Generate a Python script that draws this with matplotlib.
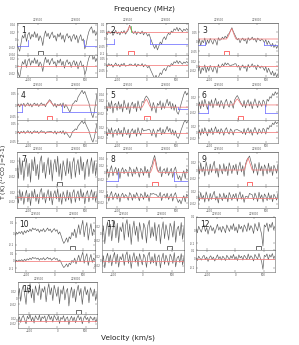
import numpy as np
import matplotlib
matplotlib.use("Agg")
import matplotlib.pyplot as plt
from matplotlib.patches import Rectangle
import matplotlib.transforms as mtransforms
from matplotlib.ticker import FuncFormatter

# ---------------- data (spectra in mK) ----------------
VMIN, VMAX = -690, 700          # velocity range of every panel (km/s)
F0 = 229250.0                   # reference frequency (MHz) for the top axis
C_KMS = 299792.458

vel_ticks = [-500, 0, 500]
freq_ticks = [229500, 229000]

spec1 = [-10, -22, -30, -8, 12, 5, 18, -4, 14, 20, 2, 15, 8, 22, 6, 17, -2, 11, 4, -15,
         10, 24, 9, 18, 3, 14, 21, 6, 12, -3, 16, 8, 19, 2, 13, -6, 10, 17, 5, 11,
         -4, 9, 15, 1, 12, -8, 6, 14, -2, 3, -24, -12, 8, 22, 30, 35, 18, 26, 12, 20]
spec2 = [45, 30, 55, 38, 50, 25, 42, 60, 35, 48, 28, 52, 40, 58, 33, 47, 62, 95, 70, 45,
         38, 55, 30, 50, 42, 36, 55, 28, 46, 40, 20, 35, 5, -20, -45, -65, -40, -75, -50, -20,
         -35, 0, 15, -5, 25, 40, 30, 55, 45, 70, 60, 80, 55, 75, 62, 50, 68, 58, 72, 60]
spec3 = [-10, 15, -20, 8, -5, 20, -15, 10, -8, 18, 2, -12, 14, 5, -18, 22, 8, 12, 25, 15,
         30, 20, 38, 45, 60, 75, 55, 40, 25, 10, 18, -5, 12, 20, 5, 15, -10, 22, 8, 14,
         25, 10, 18, -2, 20, 12, 5, 15, 8, -5, 12, -15, 5, -10, -25, -8, -30, -15, -35, -20]
spec4 = [-5, 5, -8, 6, -3, 8, -6, 2, 10, -4, 6, -8, 4, 9, -2, 7, -6, 3, 10, 0,
         5, -7, 8, 15, 24, 18, 6, -5, 8, -10, 4, -3, 7, -6, 10, -12, 3, -8, -20, -30,
         -15, 5, 10, 20, 15, 35, 45, 55, 65, 50, 60, 42, 25, 10, -15, -40, -55, -30, 10, 50]
spec5 = [5, -12, 15, -5, 20, -18, 8, 12, -10, 18, -6, 10, -15, 22, 3, -8, 14, -20, 6, 16,
         -4, 12, -14, 20, 2, -10, 18, 15, 28, 35, 30, 22, 8, -12, 15, 0, -18, 12, 6, 20,
         -8, 14, -4, 10, 25, 5, 18, -6, 12, -10, 8, -15, -22, -8, 10, 25, 40, 50, 38, 45]
spec6 = [-20, 8, -10, 12, -5, 15, 2, -12, 10, -3, 14, -8, 6, 18, -2, 9, -6, 12, 4, -10,
         8, 15, 0, -6, 11, 5, -9, 13, 20, 25, 18, 10, 3, -5, 12, -8, 6, 14, -3, 9,
         -10, 5, 16, 2, -7, 11, 4, -4, 13, 8, -6, 15, 10, 22, 18, 30, 25, 35, 28, 33]
spec7 = [10, -25, 30, -15, 22, -30, 5, 28, -20, 15, -35, 25, -5, 32, -18, 12, -28, 20, 35, -10,
         18, -25, 8, 30, -15, 24, -32, 10, 26, -8, 34, -20, 14, -30, 22, 2, -18, 28, -12, 20,
         -26, 16, 30, -22, 8, 25, -15, 33, -5, 18, -28, 12, 26, -20, 10, 30, -12, 22, -18, 15]
spec8 = [-5, 10, -15, 8, 20, -10, 5, 15, -8, 12, -18, 6, 14, -4, 9, 3, -12, 16, 8, -12,
         10, -5, 16, 3, -14, 12, 6, -9, 18, -2, 9, -16, 13, 20, 38, 50, 30, 8, 2, 17,
         -13, 6, 11, -4, 14, -9, 3, 12, -15, 7, 16, -6, -20, -10, -25, -8, 5, -18, 10, 4]
spec9 = [12, -10, 18, -5, 8, -15, 20, 3, -12, 15, -6, 10, 22, -8, 5, -18, 14, 2, -10, 16,
         -4, 9, -14, 18, 6, -9, 12, 0, 15, -12, 8, 20, -5, 11, -16, 14, 25, 30, 35, 22,
         10, -8, 16, 4, -13, 19, -2, 10, -15, 13, 5, -10, 17, -6, 9, -14, 12, 3, -8, 15]
spec10 = [-20, 10, -5, 15, 0, 20, -10, 25, 5, 30, 15, 40, 20, 50, 35, 45, 25, 40, 10, 35,
          20, 45, 15, 30, 50, 25, 40, 10, 30, 45, 20, 35, -5, 15, -20, -60, -90, -70, -40, -80,
          -30, -50, 10, -20, 40, -40, 20, 80, -10, 60, 120, -30, 50, 100, -60, 30, 90, -20, 40, 10]
spec11 = [-15, 20, -28, 10, 32, -8, 25, -20, 15, 35, -12, 28, -25, 18, 5, 30, -18, 22, 38, -10,
          26, -30, 12, 34, -5, 20, -22, 30, 8, -16, 28, 15, -26, 22, 36, -12, 18, -8, 30, -20,
          14, 25, -28, 10, 32, -14, 24, 6, -18, 28, 16, -10, 34, -24, 12, 20, -6, 30, -16, 18]
spec12 = [10, -20, 30, 5, -15, 25, 40, -10, 20, -30, 15, 35, -5, 20, -25, 10, 45, 0, 25, -15,
          30, 10, -20, 40, 15, -10, 35, 5, 50, -5, 25, -20, 45, 10, 30, -15, 40, 20, -10, 55,
          0, 35, 15, -25, 50, 20, -5, 60, 10, -30, -120, 40, 25, 55, -10, 45, 20, 60, 5, 30]
spec13 = [5, 30, -10, 25, 40, 10, -20, 35, 15, 45, 0, 28, -15, 38, 20, 8, 42, -5, 30, 18,
          36, -12, 24, 45, 10, 32, -8, 40, 22, 5, 35, -18, 26, 12, 38, -6, 20, 30, -25, 15,
          34, 0, 28, -12, 22, 40, 8, 30, -20, 18, 36, 10, 26, -15, 32, 20, 5, 28, -8, 15]

spectra = {1: spec1, 2: spec2, 3: spec3, 4: spec4, 5: spec5, 6: spec6, 7: spec7,
           8: spec8, 9: spec9, 10: spec10, 11: spec11, 12: spec12, 13: spec13}

# fitted model (red): constant level plus line channels (mK)
model_level = {2: 45, 3: 15, 4: 0, 5: 0, 6: 0, 8: 0, 9: 0}
model_line = {
    2: {15: 8, 16: 25, 17: 45, 18: 20, 19: 5},
    3: {22: 10, 23: 25, 24: 45, 25: 55, 26: 35, 27: 15},
    4: {22: 5, 23: 12, 24: 20, 25: 12, 26: 5},
    5: {27: 8, 28: 18, 29: 25, 30: 18, 31: 8},
    6: {27: 6, 28: 12, 29: 16, 30: 12, 31: 6},
    8: {33: 10, 34: 25, 35: 40, 36: 20, 37: 5},
    9: {35: 10, 36: 20, 37: 30, 38: 20, 39: 10},
}
# baseline windows (blue), km/s, and their drawn level (mK)
blue_windows = {1: [(-690, -500), (480, 700)], 2: [(-690, -560), (60, 700)],
                3: [(-690, -560), (450, 700)], 4: [(-690, -600), (84, 700)],
                5: [(530, 700)], 6: [(-690, -520), (480, 700)],
                8: [(-690, -485), (460, 700)]}
blue_level = {1: -16, 2: -35, 3: -17, 4: -30, 5: -5, 6: -21, 8: -25}
# line window markers (small boxes), centre velocity and colour
box_v = {1: -277, 2: -265, 3: -191, 4: -130, 5: 7, 6: 50, 7: 50, 8: 143, 9: 204,
         10: 308, 11: 449, 12: 411, 13: 376}
box_col = {1: 'k', 2: 'r', 3: 'r', 4: 'r', 5: 'r', 6: 'r', 7: 'k', 8: 'r', 9: 'r',
           10: 'k', 11: 'k', 12: 'k', 13: 'k'}
green_v = {2: -265}

spec_ylim = {1: (-0.04, 0.045), 2: (-0.11, 0.11), 3: (-0.07, 0.1), 4: (-0.065, 0.075),
             5: (-0.04, 0.06), 6: (-0.04, 0.045), 7: (-0.045, 0.045), 8: (-0.04, 0.06),
             9: (-0.04, 0.045), 10: (-0.15, 0.15), 11: (-0.045, 0.045), 12: (-0.15, 0.1),
             13: (-0.05, 0.05)}
spec_yticks = {1: [-0.04, -0.02, 0, 0.02, 0.04], 2: [-0.1, -0.05, 0, 0.05, 0.1],
               3: [-0.05, 0, 0.05], 4: [-0.05, 0, 0.05], 5: [-0.02, 0, 0.02, 0.04],
               6: [-0.02, 0, 0.02], 7: [-0.02, 0, 0.02], 8: [-0.02, 0, 0.02, 0.04],
               9: [-0.02, 0, 0.02], 10: [-0.1, 0, 0.1], 11: [-0.02, 0, 0.02],
               12: [-0.1, 0, 0.1], 13: [-0.02, 0, 0.02]}
res_ylim = {1: (-0.03, 0.03), 2: (-0.1, 0.08), 3: (-0.05, 0.05), 4: (-0.06, 0.07),
            5: (-0.04, 0.05), 6: (-0.035, 0.04), 7: (-0.045, 0.045), 8: (-0.04, 0.04),
            9: (-0.035, 0.04), 10: (-0.15, 0.15), 11: (-0.045, 0.045), 12: (-0.15, 0.1),
            13: (-0.05, 0.05)}
res_yticks = {1: [-0.02, 0, 0.02], 2: [-0.05, 0, 0.05], 3: [-0.02, 0, 0.02],
              4: [-0.05, 0, 0.05], 5: [-0.02, 0, 0.02], 6: [-0.02, 0, 0.02],
              7: [-0.02, 0, 0.02], 8: [-0.02, 0, 0.02], 9: [-0.02, 0, 0.02],
              10: [-0.1, 0, 0.1], 11: [-0.02, 0, 0.02], 12: [-0.1, 0, 0.1],
              13: [-0.02, 0, 0.02]}

# ---------------- layout (pixels) ----------------
W, H = 299, 345
fig = plt.figure(figsize=(W / 100, H / 100), dpi=100)
fig.patch.set_facecolor('white')

rows = [(23, 55, 77), (88, 120, 143), (152, 186, 208), (217, 250, 272), (282, 314, 328)]
cols = {1: (17, 97), 2: (106, 188), 3: (198, 278)}
panel_pos = {}
n = 1
for r in range(4):
    for c in (1, 2, 3):
        x0, x1 = cols[c]
        if r == 3:
            x0, x1 = {1: (15, 95), 2: (102, 184), 3: (196, 275)}[c]
        panel_pos[n] = (x0, x1) + rows[r]
        n += 1
panel_pos[13] = (18, 97) + rows[4]


def add_ax(x0, x1, y0, y1):
    return fig.add_axes([x0 / W, 1 - y1 / H, (x1 - x0) / W, (y1 - y0) / H])


def v2f(v):
    return F0 * (1 - np.asarray(v) / C_KMS)


def f2v(f):
    return C_KMS * (1 - np.asarray(f) / F0)


fmt = FuncFormatter(lambda y, p: '0' if abs(y) < 1e-12 else ('%g' % y))
SPEC_C = '#5a5a5a'
RED = '#f27a7a'
BLUE = '#7070ff'
TICKFS = 2.0


def style(ax):
    for s in ax.spines.values():
        s.set_linewidth(0.4)
        s.set_color('#666666')
    ax.tick_params(direction='in', length=1.2, width=0.3, labelsize=TICKFS,
                   colors='#555555', pad=0.6, top=True, right=True)
    ax.set_xlim(VMIN, VMAX)


for k in range(1, 14):
    x0, x1, yt, ym, yb = panel_pos[k]
    spec = np.array(spectra[k]) * 1e-3
    v = np.linspace(VMIN, VMAX, len(spec))
    model = np.zeros(len(spec))
    if k in model_level:
        model += model_level[k] * 1e-3
        for ch, val in model_line[k].items():
            model[ch] += val * 1e-3
    resid = spec - model

    ax = add_ax(x0, x1, yt, ym)
    style(ax)
    ax.plot(v, spec, color=SPEC_C, lw=0.45)
    if k in model_level:
        ax.plot(v, model, color=RED, lw=0.55)
    if k in blue_windows:
        lev = blue_level[k] * 1e-3
        for a, b in blue_windows[k]:
            ax.plot([a, b], [lev, lev], color=BLUE, lw=0.55)
            for e in (a, b):
                if VMIN < e < VMAX:
                    ax.plot([e, e], [lev, 0], color=BLUE, lw=0.55)
    if k in green_v:
        ax.plot([green_v[k]] * 2, [0.045, 0.09], color='#40c040', lw=0.5)
    trans = mtransforms.blended_transform_factory(ax.transData, ax.transAxes)
    ax.add_patch(Rectangle((box_v[k] - 45, 0.01), 90, 0.1, transform=trans,
                           fill=False, ec=box_col[k], lw=0.4))
    ax.set_ylim(*spec_ylim[k])
    ax.set_yticks(spec_yticks[k])
    ax.yaxis.set_major_formatter(fmt)
    ax.set_xticks(vel_ticks)
    ax.tick_params(labelbottom=False, top=False)
    ax.text(0.05, 0.9, str(k), transform=ax.transAxes, fontsize=5.5,
            va='top', ha='left', color='#222222')
    sec = ax.secondary_xaxis('top', functions=(v2f, f2v))
    sec.set_xticks(freq_ticks)
    sec.set_xticklabels([str(f) for f in freq_ticks])
    sec.tick_params(direction='in', length=1.2, width=0.3, labelsize=TICKFS,
                    colors='#555555', pad=0.8)
    sec.spines['top'].set_linewidth(0.4)
    sec.spines['top'].set_color('#666666')

    axr = add_ax(x0, x1, ym, yb)
    style(axr)
    axr.plot(v, resid, color=SPEC_C, lw=0.45)
    axr.axhline(0, color=RED, lw=0.55)
    axr.set_ylim(*res_ylim[k])
    axr.set_yticks(res_yticks[k])
    axr.yaxis.set_major_formatter(fmt)
    axr.set_xticks(vel_ticks)

fig.text(144 / W, 1 - 9 / H, 'Frequency (MHz)', fontsize=5.2, ha='center',
         va='center', color='#222222')
fig.text(128 / W, 1 - 338 / H, 'Velocity (km/s)', fontsize=5.2, ha='center',
         va='center', color='#222222')
fig.text(4.2 / W, 1 - 172 / H, r'T (K) ($^{12}$CO J=2-1)', fontsize=4.4, ha='center',
         va='center', rotation=90, color='#222222')

fig.savefig('out.png', dpi=100, facecolor='white')
